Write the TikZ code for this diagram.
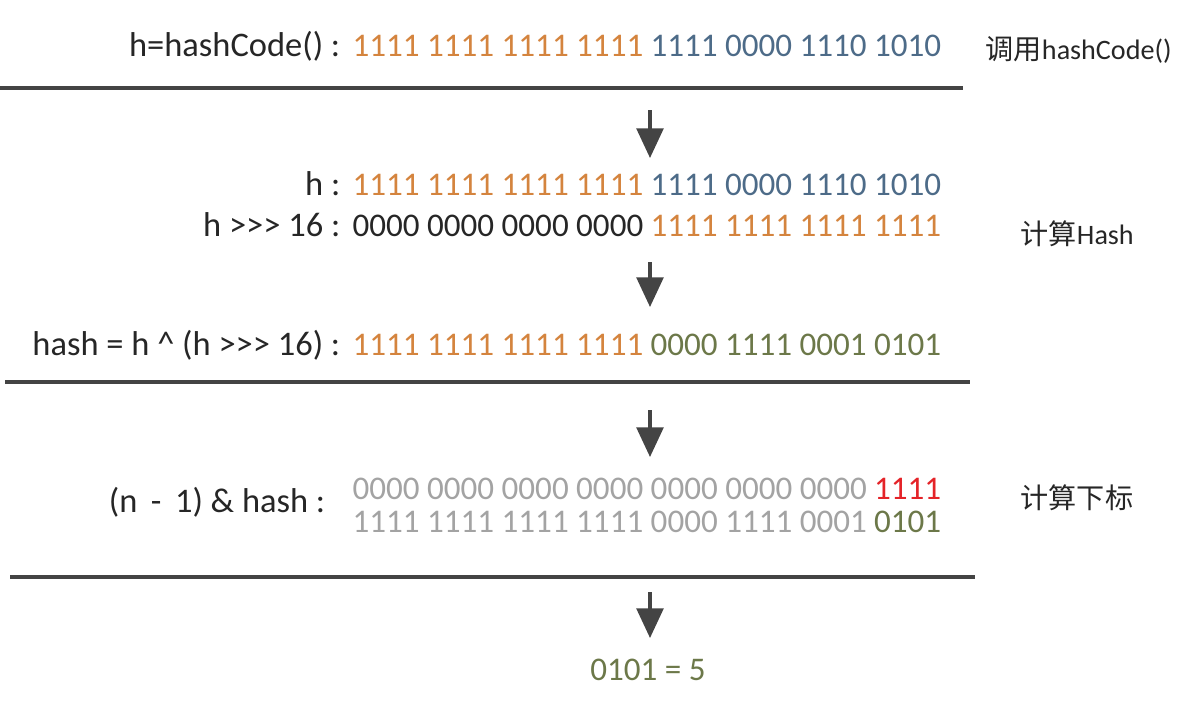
\documentclass[tikz,border=0pt]{standalone}
\usepackage{fontspec}
\setmainfont{Carlito}
\newfontfamily\cjk{Noto Sans CJK SC}
\usetikzlibrary{arrows.meta}

\definecolor{hiorange}{HTML}{D4843E}
\definecolor{loblue}{HTML}{4D6B88}
\definecolor{xorgreen}{HTML}{6C7849}
\definecolor{maskgray}{HTML}{A3A3A3}
\definecolor{maskred}{HTML}{E42328}
\definecolor{rulegray}{HTML}{444444}

% three ">" without the TeX ligature
\newcommand{\ushr}{>\kern0pt>\kern0pt>}

\tikzset{
  txt/.style={font=\fontsize{9.4}{11}\selectfont, text=black!85, inner sep=0pt},
  lbl/.style={txt, font=\fontsize{9.8}{11}\selectfont, anchor=base east},
  bits/.style={txt, anchor=base west},
  note/.style={txt, font=\fontsize{8}{10}\selectfont, anchor=base west},
  rule/.style={draw=rulegray, line width=1.2pt},
  down/.style={draw=rulegray, line width=0.9pt, -{Triangle[width=7.6pt,length=8.4pt]}}
}

\begin{document}
\begin{tikzpicture}[x=0.01cm, y=-0.01cm]
  \useasboundingbox (0,0) rectangle (1200,703);

  % step 1
  \node[lbl] (l1) at (341,57) {h=hashCode() :};
  \node[bits] (b1) at (352,57) {\color{hiorange}1111 1111 1111 1111 \color{loblue}1111 0000 1110 1010};
  \node[note] (n1) at (985,59) {{\cjk 调用}hashCode()};
  \coordinate (r1w) at (0,88);
  \coordinate (r1e) at (963,88);
  \draw[rule] (r1w) -- (r1e);

  % step 2
  \node[lbl] (l2) at (341,195) {h :};
  \node[bits] (b2) at (352,195) {\color{hiorange}1111 1111 1111 1111 \color{loblue}1111 0000 1110 1010};
  \node[lbl] (l3) at (341,236) {h \ushr{} 16 :};
  \node[bits] (b3) at (352,236) {0000 0000 0000 0000 \color{hiorange}1111 1111 1111 1111};
  \node[note] (n2) at (1020,244) {{\cjk 计算}Hash};
  \node[lbl] (l4) at (341,355) {hash = h \^{} (h \ushr{} 16) :};
  \node[bits] (b4) at (352,355) {\color{hiorange}1111 1111 1111 1111 \color{xorgreen}0000 1111 0001 0101};
  \coordinate (r2w) at (5,382);
  \coordinate (r2e) at (970,382);
  \draw[rule] (r2w) -- (r2e);

  % step 3
  \node[lbl] (l5) at (326,512) {(n\, - \,1) \& hash :};
  \node[bits] (b5) at (352,499) {\color{maskgray}0000 0000 0000 0000 0000 0000 0000 \color{maskred}1111};
  \node[bits] (b6) at (352,532) {\color{maskgray}1111 1111 1111 1111 0000 1111 0001 \color{xorgreen}0101};
  \node[note] (n3) at (1020,508) {\cjk 计算下标};
  \coordinate (r3w) at (10,577);
  \coordinate (r3e) at (975,577);
  \draw[rule] (r3w) -- (r3e);

  % result
  \node[txt, anchor=base, text=xorgreen] (res) at (648,680) {0101 = 5};

  % arrows between the steps
  \foreach \i/\top/\tip in {1/110/158, 2/262/307, 3/410/457, 4/592/638}{
    \coordinate (a\i) at (650,\top);
    \coordinate (z\i) at (650,\tip);
    \draw[down] (a\i) -- (z\i);
  }
\end{tikzpicture}
\end{document}
